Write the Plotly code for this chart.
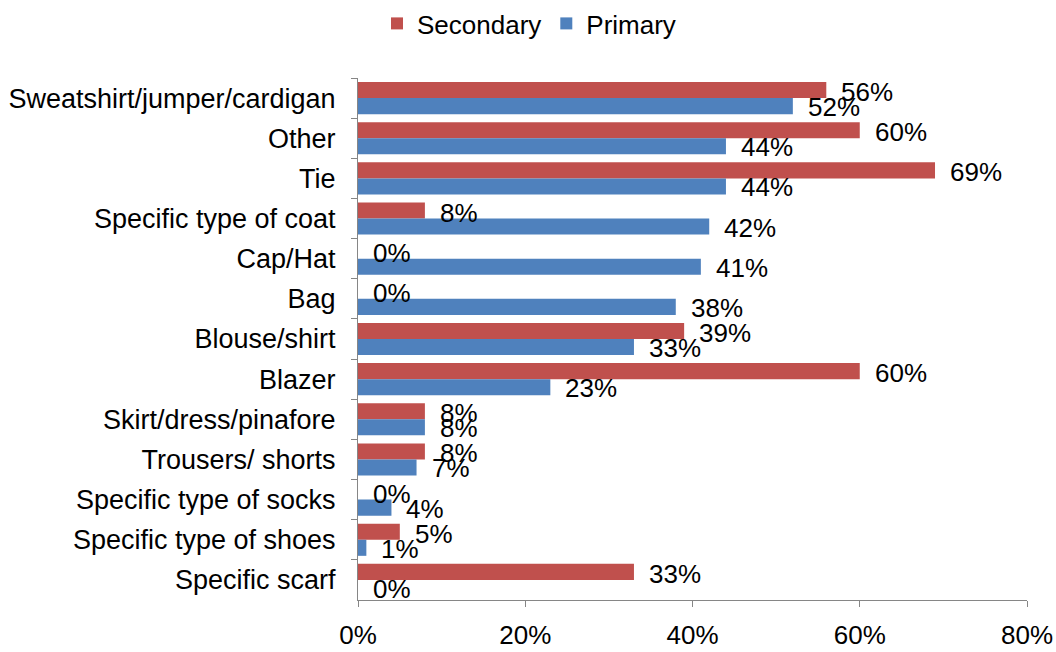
import plotly.graph_objects as go

categories = ["Sweatshirt/jumper/cardigan", "Other", "Tie", "Specific type of coat", "Cap/Hat",
              "Bag", "Blouse/shirt", "Blazer", "Skirt/dress/pinafore", "Trousers/ shorts",
              "Specific type of socks", "Specific type of shoes", "Specific scarf"]
secondary = [56, 60, 69, 8, 0, 0, 39, 60, 8, 8, 0, 5, 33]
primary = [52, 44, 44, 42, 41, 38, 33, 23, 8, 7, 4, 1, 0]
tick_vals = [0, 20, 40, 60, 80]
tick_text = ["0%", "20%", "40%", "60%", "80%"]

RED = "#C0504D"
BLUE = "#4F81BD"
FONT = "Liberation Sans, Arial, sans-serif"
AXIS = "#868686"
FS = 26

fig = go.Figure()
fig.add_trace(go.Bar(y=categories, x=secondary, name="Secondary", orientation="h",
                     marker=dict(color=RED, line=dict(width=0))))
fig.add_trace(go.Bar(y=categories, x=primary, name="Primary", orientation="h",
                     marker=dict(color=BLUE, line=dict(width=0))))

annotations = []
for vals, shift in ((secondary, 6), (primary, -9)):
    for c, v in zip(categories, vals):
        annotations.append(dict(x=v, y=c, xref="x", yref="y", text=f"{v}%", showarrow=False,
                                xanchor="left", yanchor="middle", xshift=13, yshift=shift,
                                font=dict(family=FONT, size=FS, color="black")))

n = len(categories)
fig.update_layout(
    width=1056, height=652,
    margin=dict(l=358, r=29, t=78, b=52, autoexpand=False),
    paper_bgcolor="white", plot_bgcolor="white",
    barmode="group", bargap=0.2, bargroupgap=0,
    font=dict(family=FONT, size=FS, color="black"),
    showlegend=True,
    legend=dict(orientation="h", xref="container", yref="container",
                x=0.357, xanchor="left", y=1.0, yanchor="top",
                font=dict(family=FONT, size=FS, color="black"), itemwidth=30,
                traceorder="normal"),
    annotations=annotations,
)
fig.update_xaxes(range=[0, 80], tickvals=tick_vals, ticktext=tick_text, showgrid=False,
                 zeroline=False, showline=True, linecolor=AXIS, linewidth=1,
                 ticks="outside", ticklen=6, tickcolor=AXIS, ticklabelstandoff=6,
                 tickfont=dict(family=FONT, size=FS, color="black"))
fig.update_yaxes(range=[n - 0.5, -0.5], autorange=False, showgrid=False, zeroline=False,
                 showline=True, linecolor=AXIS, linewidth=1, ticks="outside", ticklen=6,
                 tickcolor=AXIS, tickson="boundaries", ticklabelstandoff=16,
                 tickfont=dict(family=FONT, size=27, color="black"))

fig.write_html("out.html", config={"displayModeBar": False},
               post_script="document.body.style.margin='0';document.body.style.overflow='hidden';")
